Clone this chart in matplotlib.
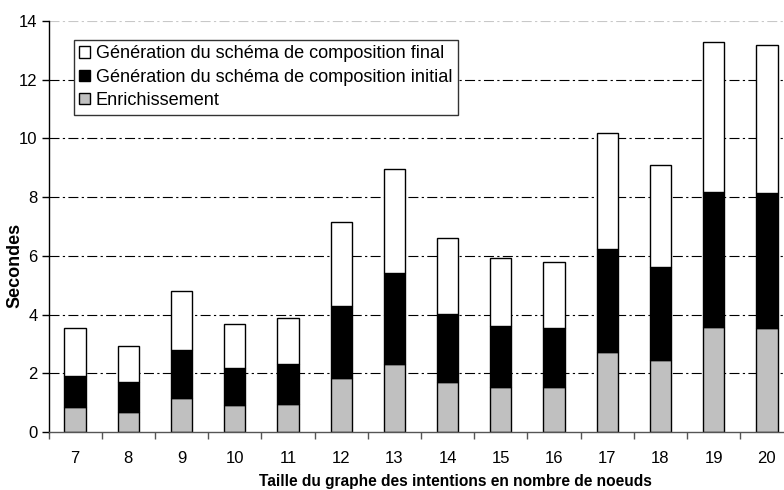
import matplotlib
matplotlib.use("Agg")
import matplotlib.pyplot as plt
import numpy as np

plt.rcParams['font.family'] = ['Liberation Sans', 'DejaVu Sans']

tailles = [7, 8, 9, 10, 11, 12, 13, 14, 15, 16, 17, 18, 19, 20]
enrichissement = [0.85, 0.68, 1.17, 0.91, 0.96, 1.83, 2.32, 1.71, 1.54, 1.52, 2.71, 2.44, 3.58, 3.55]
initial = [1.07, 1.01, 1.63, 1.26, 1.37, 2.47, 3.10, 2.30, 2.07, 2.03, 3.53, 3.17, 4.60, 4.60]
final = [1.63, 1.25, 2.00, 1.52, 1.56, 2.86, 3.54, 2.59, 2.31, 2.25, 3.94, 3.49, 5.09, 5.03]

W, H = 784, 490
fig = plt.figure(figsize=(W / 100, H / 100), dpi=100)
ax = fig.add_axes([48.5 / W, 58 / H, 745 / W, 411 / H])

x = np.arange(len(tailles))
enr = np.array(enrichissement)
ini = np.array(initial)
fin = np.array(final)

# gridlines
for yv in range(2, 15, 2):
    col = '#c8c8c8' if yv == 14 else 'black'
    ax.axhline(yv, color=col, lw=0.8, ls=(0, (9, 3, 2, 3)), zorder=0)

bw = 0.4
b1 = ax.bar(x, enr, bw, color='#c0c0c0', edgecolor='black', lw=1, zorder=2)
b2 = ax.bar(x, ini, bw, bottom=enr, color='black', edgecolor='black', lw=1, zorder=2)
b3 = ax.bar(x, fin, bw, bottom=enr + ini, color='white', edgecolor='black', lw=1, zorder=2)

ax.set_xlim(-0.5, len(tailles) - 0.5)
ax.set_ylim(0, 14)
ax.set_yticks(range(0, 15, 2))
ax.tick_params(axis='y', labelsize=12, direction='out', length=5, width=1, pad=3)

ax.set_xticks(np.arange(-0.5, len(tailles), 1.0))
ax.set_xticklabels([])
ax.tick_params(axis='x', which='major', direction='out', length=5, width=1, color='#555555')
ax.set_xticks(x, minor=True)
ax.set_xticklabels([str(t) for t in tailles], minor=True)
ax.tick_params(axis='x', which='minor', length=0, labelsize=12, pad=14)

for s in ['top', 'right']:
    ax.spines[s].set_visible(False)
ax.spines['left'].set_linewidth(1)
ax.spines['bottom'].set_color('#555555')
ax.spines['bottom'].set_linewidth(1)

ax.set_ylabel('Secondes', fontsize=13, fontweight='bold')
ax.yaxis.set_label_coords(-0.033, 0.405)
fig.text(455 / W, 1 - 481 / H, 'Taille du graphe des intentions en nombre de noeuds',
         ha='center', va='center', fontsize=11.2, fontweight='bold')

leg = ax.legend([b3, b2, b1],
                ['Génération du schéma de composition final',
                 'Génération du schéma de composition initial',
                 'Enrichissement'],
                loc='upper left', bbox_to_anchor=(0.034, 0.954), fontsize=13.1,
                fancybox=False, framealpha=1, edgecolor='#333333',
                handlelength=0.6, handleheight=0.6, handletextpad=0.3,
                labelspacing=0.35, borderpad=0.3, borderaxespad=0)
leg.get_frame().set_linewidth(1)

fig.savefig('out.png', dpi=100)
